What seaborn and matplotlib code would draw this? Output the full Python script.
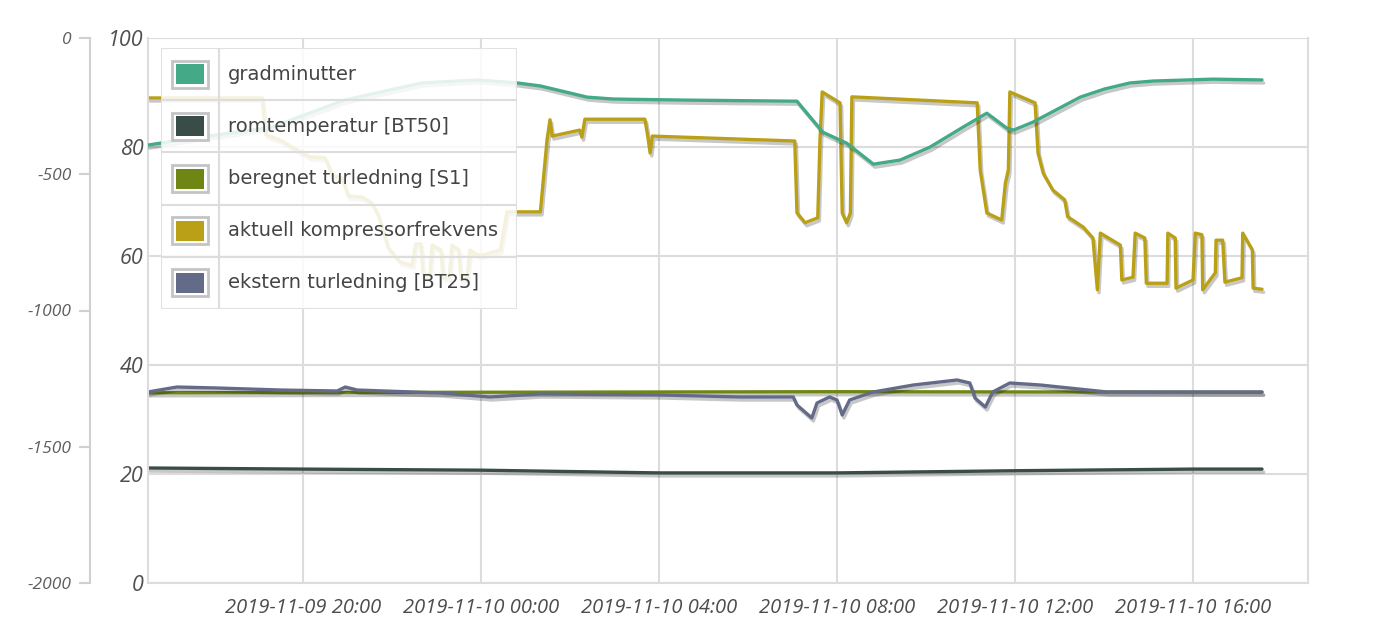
import matplotlib
matplotlib.use("Agg")
import matplotlib.pyplot as plt
import matplotlib.dates as mdates
import matplotlib.patheffects as pe
from matplotlib.patches import Rectangle
import seaborn as sns
import pandas as pd

# ---------------- data ----------------
grad_times = ["2019-11-09 16:31", "2019-11-09 17:30", "2019-11-09 18:30", "2019-11-09 19:18",
              "2019-11-09 20:56", "2019-11-09 22:40", "2019-11-09 23:56", "2019-11-10 00:49",
              "2019-11-10 01:20", "2019-11-10 02:23", "2019-11-10 02:58", "2019-11-10 04:38",
              "2019-11-10 07:06", "2019-11-10 07:41", "2019-11-10 08:13", "2019-11-10 08:49",
              "2019-11-10 09:25", "2019-11-10 10:05", "2019-11-10 10:50", "2019-11-10 11:22",
              "2019-11-10 11:49", "2019-11-10 11:58", "2019-11-10 12:24", "2019-11-10 13:28",
              "2019-11-10 14:01", "2019-11-10 14:35", "2019-11-10 15:06", "2019-11-10 16:27",
              "2019-11-10 17:33"]
grad_values = [-393, -368, -346, -327, -228, -165, -154, -165, -176, -217, -224, -228,
               -232, -346, -386, -463, -448, -401, -327, -276, -331, -338, -309, -217,
               -187, -165, -158, -151, -154]

rom_times = ["2019-11-09 16:31", "2019-11-09 20:00", "2019-11-10 00:00", "2019-11-10 04:00",
             "2019-11-10 08:00", "2019-11-10 12:00", "2019-11-10 16:00", "2019-11-10 17:33"]
rom_values = [21.1, 20.9, 20.7, 20.2, 20.2, 20.6, 20.9, 20.9]

s1_times = ["2019-11-09 16:31", "2019-11-10 00:00", "2019-11-10 08:00", "2019-11-10 17:33"]
s1_values = [34.9, 35.0, 35.1, 35.0]

komp_times = ["2019-11-09 16:31", "2019-11-09 19:05", "2019-11-09 19:10", "2019-11-09 19:29",
              "2019-11-09 19:53", "2019-11-09 20:09", "2019-11-09 20:30", "2019-11-09 20:40",
              "2019-11-09 20:53", "2019-11-09 21:01", "2019-11-09 21:20", "2019-11-09 21:33",
              "2019-11-09 21:41", "2019-11-09 21:55", "2019-11-09 22:11", "2019-11-09 22:27",
              "2019-11-09 22:32", "2019-11-09 22:39", "2019-11-09 22:42", "2019-11-09 22:51",
              "2019-11-09 22:54", "2019-11-09 23:06", "2019-11-09 23:09", "2019-11-09 23:17",
              "2019-11-09 23:21", "2019-11-09 23:30", "2019-11-09 23:33", "2019-11-09 23:41",
              "2019-11-09 23:45", "2019-11-09 23:55", "2019-11-10 00:03", "2019-11-10 00:26",
              "2019-11-10 00:35", "2019-11-10 01:20", "2019-11-10 01:29", "2019-11-10 01:33",
              "2019-11-10 01:36", "2019-11-10 02:13", "2019-11-10 02:16", "2019-11-10 02:20",
              "2019-11-10 03:41", "2019-11-10 03:45", "2019-11-10 03:48", "2019-11-10 03:51",
              "2019-11-10 07:03", "2019-11-10 07:06", "2019-11-10 07:17", "2019-11-10 07:34",
              "2019-11-10 07:37", "2019-11-10 07:40", "2019-11-10 08:04", "2019-11-10 08:07",
              "2019-11-10 08:13", "2019-11-10 08:18", "2019-11-10 08:20", "2019-11-10 11:09",
              "2019-11-10 11:13", "2019-11-10 11:22", "2019-11-10 11:42", "2019-11-10 11:47",
              "2019-11-10 11:51", "2019-11-10 11:53", "2019-11-10 12:27", "2019-11-10 12:31",
              "2019-11-10 12:38", "2019-11-10 12:51", "2019-11-10 13:07", "2019-11-10 13:11",
              "2019-11-10 13:32", "2019-11-10 13:45", "2019-11-10 13:51", "2019-11-10 13:55",
              "2019-11-10 14:22", "2019-11-10 14:24", "2019-11-10 14:39", "2019-11-10 14:42",
              "2019-11-10 14:55", "2019-11-10 14:57", "2019-11-10 15:25", "2019-11-10 15:26",
              "2019-11-10 15:36", "2019-11-10 15:37", "2019-11-10 16:00", "2019-11-10 16:03",
              "2019-11-10 16:12", "2019-11-10 16:13", "2019-11-10 16:30", "2019-11-10 16:31",
              "2019-11-10 16:40", "2019-11-10 16:43", "2019-11-10 17:06", "2019-11-10 17:07",
              "2019-11-10 17:20", "2019-11-10 17:21", "2019-11-10 17:33"]
komp_values = [89.0, 89.0, 82.2, 81.3, 79.4, 78.2, 78.0, 74.7, 74.3, 71.0, 70.8, 69.7,
               67.7, 61.5, 58.9, 58.3, 62.2, 62.2, 56.5, 56.5, 62.0, 61.1, 56.0, 56.0,
               62.0, 61.1, 55.6, 55.6, 61.1, 60.2, 60.2, 61.1, 68.1, 68.1, 81.3, 85.0,
               82.0, 83.1, 81.8, 85.1, 85.1, 81.8, 78.9, 82.0, 81.1, 67.9, 66.1, 67.0,
               81.3, 90.1, 88.1, 67.9, 66.1, 67.9, 89.2, 88.1, 75.8, 67.9, 66.6, 73.4,
               75.8, 90.1, 88.1, 78.9, 75.2, 72.1, 70.3, 67.2, 65.3, 63.3, 53.8, 64.2,
               62.0, 55.6, 56.1, 64.2, 63.3, 55.0, 55.0, 64.2, 63.3, 54.1, 55.6, 64.2,
               63.9, 53.8, 56.9, 62.9, 62.9, 55.2, 56.0, 64.2, 61.1, 54.1, 53.9]

bt25_times = ["2019-11-09 16:31", "2019-11-09 17:10", "2019-11-09 18:04", "2019-11-09 19:29",
              "2019-11-09 20:46", "2019-11-09 20:57", "2019-11-09 21:13", "2019-11-09 23:05",
              "2019-11-10 00:12", "2019-11-10 01:20", "2019-11-10 04:01", "2019-11-10 05:49",
              "2019-11-10 07:01", "2019-11-10 07:06", "2019-11-10 07:26", "2019-11-10 07:33",
              "2019-11-10 07:50", "2019-11-10 08:00", "2019-11-10 08:07", "2019-11-10 08:17",
              "2019-11-10 08:49", "2019-11-10 09:43", "2019-11-10 10:42", "2019-11-10 10:59",
              "2019-11-10 11:06", "2019-11-10 11:20", "2019-11-10 11:30", "2019-11-10 11:53",
              "2019-11-10 12:34", "2019-11-10 14:04", "2019-11-10 16:46", "2019-11-10 17:33"]
bt25_values = [35.05, 35.96, 35.78, 35.41, 35.23, 35.96, 35.41, 34.86, 34.13, 34.68, 34.50,
               34.13, 34.13, 32.66, 30.28, 33.03, 34.13, 33.58, 30.83, 33.58, 35.05, 36.33,
               37.25, 36.70, 33.94, 32.29, 35.05, 36.70, 36.33, 35.05, 35.05, 35.05]

series_names = ["gradminutter", "romtemperatur [BT50]", "beregnet turledning [S1]",
                "aktuell kompressorfrekvens", "ekstern turledning [BT25]"]
series_colors = ["#43a986", "#3a4c48", "#6f8614", "#b9a016", "#646b88"]

x_ticks = ["2019-11-09 20:00", "2019-11-10 00:00", "2019-11-10 04:00",
           "2019-11-10 08:00", "2019-11-10 12:00", "2019-11-10 16:00"]
x_range = ["2019-11-09 16:31", "2019-11-10 18:35"]
left_ticks = [0, 20, 40, 60, 80, 100]
outer_ticks = [-2000, -1500, -1000, -500, 0]

# ---------------- plot ----------------
sns.set_theme(style="white")
plt.rcParams["font.family"] = ["DejaVu Sans"]
plt.rcParams["axes.unicode_minus"] = False

fig = plt.figure(figsize=(13.78, 6.22), dpi=100)
ax = fig.add_axes([148 / 1378, 1 - 583 / 622, 1160 / 1378, 545 / 622])
ax2 = ax.twinx()

shadow = [pe.SimpleLineShadow(offset=(1.2, -2.2), shadow_color="#000000", alpha=0.22),
          pe.Normal()]
LW = 2.4

def draw(axis, times, values, color):
    df = pd.DataFrame({"t": pd.to_datetime(times), "v": values})
    sns.lineplot(data=df, x="t", y="v", ax=axis, color=color, lw=LW,
                 estimator=None, sort=False)
    axis.lines[-1].set_path_effects(shadow)

draw(ax, rom_times, rom_values, series_colors[1])
draw(ax, s1_times, s1_values, series_colors[2])
draw(ax, bt25_times, bt25_values, series_colors[4])
draw(ax, komp_times, komp_values, series_colors[3])
draw(ax2, grad_times, grad_values, series_colors[0])

grid_c = "#dcdcdc"
ax.set_ylim(0, 100)
ax.set_yticks(left_ticks)
ax.set_xlim(pd.to_datetime(x_range[0]), pd.to_datetime(x_range[1]))
ax.set_xticks(pd.to_datetime(x_ticks))
ax.xaxis.set_major_formatter(mdates.DateFormatter("%Y-%m-%d %H:%M"))
ax.grid(True, color=grid_c, lw=1.5)
ax.set_xlabel("")
ax.set_ylabel("")
ax.tick_params(axis="x", length=0, pad=11, labelsize=14.5, colors="#4d4d4d")
ax.tick_params(axis="y", length=0, pad=3, labelsize=15.5, colors="#505050")
for lab in ax.get_xticklabels():
    lab.set_fontfamily("Open Sans")
    lab.set_fontstyle("italic")
for lab in ax.get_yticklabels():
    lab.set_fontfamily("Open Sans")
    lab.set_fontstyle("italic")
for s in ax.spines.values():
    s.set_color(grid_c)
    s.set_linewidth(1.5)
ax.spines["top"].set_visible(False)

ax2.set_ylim(-2000, 0)
ax2.set_yticks(outer_ticks)
ax2.set_ylabel("")
ax2.yaxis.set_ticks_position("left")
ax2.yaxis.set_label_position("left")
ax2.spines["left"].set_position(("axes", -0.05))
for k in ["right", "top", "bottom"]:
    ax2.spines[k].set_visible(False)
ax2.spines["left"].set_color("#d0d0d0")
ax2.spines["left"].set_linewidth(1.5)
ax2.tick_params(axis="y", direction="out", length=8, width=1.5, color="#d0d0d0",
                pad=5, labelsize=12.5, labelcolor="#5e5e5e")
for lab in ax2.get_yticklabels():
    lab.set_fontfamily("Open Sans")
    lab.set_fontstyle("italic")

# ---------------- legend (table style) ----------------
lax = fig.add_axes([161 / 1378, 1 - 309 / 622, 356 / 1378, 261 / 622])
lax.set_xlim(0, 1)
lax.set_ylim(0, 1)
lax.axis("off")
lax.add_patch(Rectangle((0, 0), 1, 1, facecolor="white", alpha=0.86,
                        edgecolor="#dddddd", lw=1.5, transform=lax.transAxes))
n = len(series_names)
for i in range(1, n):
    lax.axhline(i / n, color="#dddddd", lw=1.5)
lax.axvline(58 / 356, color="#dddddd", lw=1.5)
sw_w, sw_h = 36 / 356, 27 / 261
in_w, in_h = 28 / 356, 20 / 261
sx = 29 / 356
for i, (name, col) in enumerate(zip(series_names, series_colors)):
    cy = 1 - (i + 0.5) / n
    lax.add_patch(Rectangle((sx - sw_w / 2, cy - sw_h / 2), sw_w, sw_h,
                            facecolor="white", edgecolor="#c4c4c4", lw=2))
    lax.add_patch(Rectangle((sx - in_w / 2, cy - in_h / 2), in_w, in_h,
                            facecolor=col, edgecolor="none"))
    lax.text(67 / 356, cy, name, va="center", ha="left", fontsize=14,
             color="#444444", family="DejaVu Sans")

fig.savefig("out.png", dpi=100, facecolor="white")
